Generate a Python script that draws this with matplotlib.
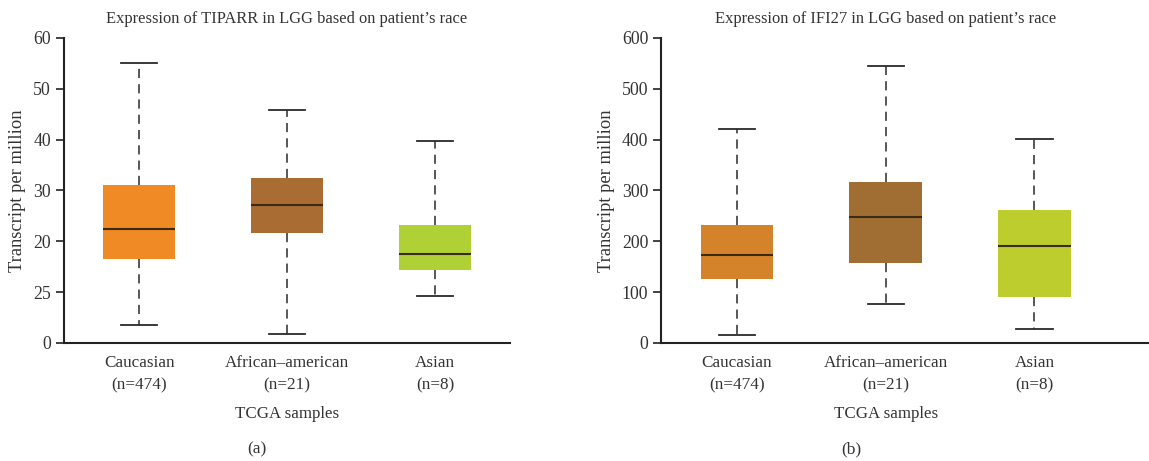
import matplotlib.pyplot as plt
from matplotlib.transforms import blended_transform_factory

plt.rcParams['font.family'] = ['Liberation Serif', 'DejaVu Serif']

# categories shared by both panels
groups = ['Caucasian', 'African\u2013american', 'Asian']
counts = [474, 21, 8]

# TIPARR box statistics (TPM)
tiparr_lo = [3.5, 1.8, 9.3]
tiparr_q1 = [16.5, 21.7, 14.4]
tiparr_med = [22.4, 27.1, 17.5]
tiparr_q3 = [31.1, 32.5, 23.2]
tiparr_hi = [55.0, 45.9, 39.8]
tiparr_ticks = [0, 10, 20, 30, 40, 50, 60]
tiparr_ticklabels = ['0', '25', '20', '30', '40', '50', '60']
tiparr_colors = ['#ef8a24', '#a96c33', '#b0d136']

# IFI27 box statistics (TPM)
ifi27_lo = [16, 77, 27]
ifi27_q1 = [125, 158, 91]
ifi27_med = [173, 247, 191]
ifi27_q3 = [232, 317, 261]
ifi27_hi = [421, 545, 402]
ifi27_ticks = [0, 100, 200, 300, 400, 500, 600]
ifi27_colors = ['#d5832b', '#a06e32', '#bdcd2e']


def panel(ax, gene, lo, q1, med, q3, hi, colors, ylim, ticks, ticklabels, xmax):
    stats = [dict(whislo=a, q1=b, med=c, q3=d, whishi=e, fliers=[])
             for a, b, c, d, e in zip(lo, q1, med, q3, hi)]
    bp = ax.bxp(stats, positions=[1, 2, 3], widths=0.49, patch_artist=True,
                showfliers=False,
                boxprops=dict(linewidth=0),
                medianprops=dict(color='#3a2a18', linewidth=1.5),
                whiskerprops=dict(color='#2a2a2a', linewidth=1.1,
                                  linestyle=(0, (6, 4))),
                capprops=dict(color='#2a2a2a', linewidth=1.3),
                capwidths=0.245)
    for patch, c in zip(bp['boxes'], colors):
        patch.set_facecolor(c)
        patch.set_edgecolor(c)

    ax.set_xlim(0.492, xmax)
    ax.set_ylim(*ylim)
    ax.set_yticks(ticks)
    ax.set_yticklabels(ticklabels)
    ax.set_xticks([1, 2, 3])
    ax.set_xticklabels([f'{g}\n(n={n})' for g, n in zip(groups, counts)],
                       linespacing=1.5)
    ax.tick_params(axis='x', length=0, pad=9, labelsize=12.3, labelcolor='#333333')
    ax.tick_params(axis='y', length=6, width=1.2, labelsize=12.8,
                   labelcolor='#333333', color='#222222')
    for s in ['top', 'right']:
        ax.spines[s].set_visible(False)
    for s in ['left', 'bottom']:
        ax.spines[s].set_linewidth(1.5)
        ax.spines[s].set_color('#222222')
    ax.set_ylabel('Transcript per million', fontsize=13.3, color='#333333',
                  labelpad=5)

    tr = blended_transform_factory(ax.transData, ax.transAxes)
    ax.text(2, 1.037, f'Expression of {gene} in LGG based on patient\u2019s race',
            transform=tr, ha='center', va='bottom', fontsize=11.9, color='#333333')
    ax.text(2, -0.205, 'TCGA samples', transform=tr, ha='center', va='top',
            fontsize=12.2, color='#333333')


fig = plt.figure(figsize=(11.49, 4.61), dpi=100)
ax1 = fig.add_axes([0.0557, 0.256, 0.3882, 0.662])
ax2 = fig.add_axes([0.5757, 0.256, 0.4243, 0.662])

panel(ax1, 'TIPARR', tiparr_lo, tiparr_q1, tiparr_med, tiparr_q3, tiparr_hi,
      tiparr_colors, (0, 60), tiparr_ticks, tiparr_ticklabels, 3.507)
panel(ax2, 'IFI27', ifi27_lo, ifi27_q1, ifi27_med, ifi27_q3, ifi27_hi,
      ifi27_colors, (0, 600), ifi27_ticks, [str(t) for t in ifi27_ticks], 3.77)

fig.text(257 / 1149, 1 - 449 / 461, '(a)', ha='center', va='center',
         fontsize=12.5, color='#333333')
fig.text(851 / 1149, 1 - 449 / 461, '(b)', ha='center', va='center',
         fontsize=12.5, color='#333333')

fig.savefig('out.png', dpi=100, facecolor='white')
plt.close(fig)
